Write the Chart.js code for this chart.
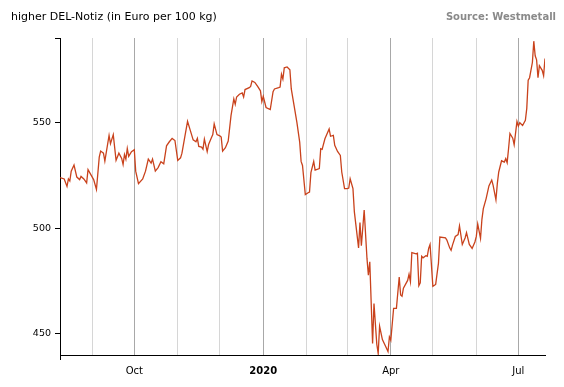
<!DOCTYPE html>
<html>
	<head>
		<script src="https://cdn.jsdelivr.net/npm/chart.js"></script>
		<style>
			body { margin: 0; background: #fff; }
		</style>
	</head>

	<body>
		<div style="width: 564px; height: 387px; position: relative">
			<canvas id="myChart"></canvas>
		</div>

		<script>
			// days counted from 2020-01-01
			const days = [
				-145, -142, -140, -139, -138, -137, -135, -133, -131, -130, -128, -126, -125, -122, -121, -119, -117, -116,
				-114, -113, -110, -109, -107, -105, -103, -101, -100, -99, -98, -97, -96, -94, -92, -91, -89, -86, -84, -82,
				-80, -79, -77, -75, -73, -71, -69, -67, -65, -63, -61, -59, -58, -56, -54, -52, -50, -48, -47, -46, -44, -43,
				-42, -40, -39, -37, -36, -35, -33, -31, -30, -29, -27, -25,
				-23, -21, -20, -19, -17, -15, -14, -13, -10, -9, -8, -6, -4, -2, -1, 0, 2, 5, 7, 8, 11, 12, 13, 14, 15, 17,
				19, 20, 22, 24, 26, 27, 28, 30, 32, 33, 34, 36, 37, 40, 41, 42, 44, 47, 48, 50, 51, 53, 55, 56, 58, 60, 61,
				62, 64, 65, 68, 69, 70, 72, 74, 75, 76, 78, 79, 81, 82, 83, 85, 87, 89,
				90, 91, 93, 95, 97, 98, 99, 100, 103, 104, 105, 106, 109, 110, 111, 112, 113, 114, 116, 117, 118, 119, 121,
				123, 125, 126, 130, 131, 133, 134, 135, 137, 139, 140, 142, 144, 145, 147, 149, 151, 152, 153, 155, 156, 157,
				159, 161, 163, 164, 166, 167, 168, 170, 172, 173, 174, 175, 176, 178, 179, 181, 182, 183, 185, 187, 188, 189,
				190, 192, 193, 194, 195, 196, 197, 199, 200, 201
			];
			const prices = [
				523.9, 523.3, 519.8, 523.3, 522.3, 527, 529.9, 524.2, 523, 524.5, 523.3, 521.4, 527.7, 524.2, 523, 518.3,
				533.6, 536.5, 535.5, 531.7, 543.9, 540, 544.3, 532.1, 535.5, 533, 530.2, 534.9, 532.7, 537.7, 534, 536.2,
				537.1, 527, 521.1, 523.3, 527, 532.7, 530.8, 532.7, 527, 528.7, 531.5, 530.5, 539, 540.9, 542.5, 541.5,
				532.1, 533.3, 535.5, 543.1, 550.6, 546.2, 541.8, 540.9, 542.5, 538.7, 538.4, 537.4, 542.1, 536.2, 539.6,
				542.8, 544.3, 549.4, 544.3, 543.7, 543.1, 536.5, 538.1, 541.2,
				553.3, 561.2, 558.6, 562.1, 563.4, 564, 562.1, 565.6, 566.5, 567.1, 569.7, 569, 567.1, 565, 559.9, 562.4,
				557.1, 556.1, 564.6, 565.9, 566.5, 566.8, 572.8, 570.6, 575.9, 576.3, 575, 565.9, 558, 550.1, 540.7, 531.6,
				529.7, 515.9, 516.8, 517.1, 526.3, 531.6, 527.5, 528.2, 537.6, 537.3, 542.3, 547, 543.5, 543.9, 539.2,
				536.3, 534.4, 526.6, 518.7, 518.7, 519, 523.4, 518.7, 507.7, 490.7, 502.7, 491.7, 508.6, 485.7, 477.8,
				484.1, 445.4, 464.3, 445.1, 440.7, 453.6, 447.3, 444.5, 441.6,
				448.6, 447, 462.1, 462.1, 476.9, 468.4, 467.8, 471.6, 475.3, 478.2, 474.7, 488.5, 487.9, 488.2, 472.8,
				474.1, 486.7, 486, 487, 486.7, 490.4, 492.3, 472.5, 473.4, 483.5, 495.8, 495.4, 494.4, 490.7, 489.5, 492,
				496.1, 497, 501.1, 492.3, 495.4, 497.9, 492.3, 490.4, 493.5, 496.1, 502, 495.2, 504.2, 509.3, 514, 520,
				522.8, 520.3, 513.4, 521.2, 526.6, 531.9, 531.3, 532.9, 531, 537.6, 544.8, 542.6, 539.5, 550.5, 548.3,
				549.9, 548.6, 551.1, 556.7, 570, 571.2, 578.4, 588.5, 581.6, 579.7, 571.2, 576.9, 574.7, 572.2, 580.3
			];

			// month starts (days from 2020-01-01), first entry is the left end of the axis
			const monthDays = [-145, -122, -92, -61, -31, 0, 31, 60, 91, 121, 152, 182];
			const monthLabels = ['', '', 'Oct', '', '', '2020', '', '', 'Apr', '', '', 'Jul'];
			const yTicks = [450, 500, 550, 590];

			const titleText = 'higher DEL-Notiz (in Euro per 100 kg)';
			const sourceText = 'Source: Westmetall';

			const points = days.map((d, i) => ({ x: d, y: prices[i] }));

			const headerPlugin = {
				id: 'header',
				afterDraw(chart) {
					const ctx = chart.ctx;
					ctx.save();
					ctx.textBaseline = 'middle';
					ctx.fillStyle = '#000';
					ctx.textAlign = 'left';
					ctx.font = '11px "DejaVu Sans"';
					ctx.fillText(titleText, 11, 17);
					ctx.fillStyle = '#8a8a8a';
					ctx.textAlign = 'right';
					ctx.font = 'bold 10px "DejaVu Sans"';
					ctx.fillText(sourceText, 556, 17);
					ctx.restore();
				}
			};

			const isQuarter = (v) => [-92, 0, 91, 182].includes(v);

			const data = {
				datasets: [
					{
						label: 'DEL-Notiz',
						data: points,
						borderColor: '#c9421c',
						borderWidth: 1.3,
						pointRadius: 0,
						tension: 0,
						fill: false
					}
				]
			};

			const options = {
				animation: false,
				responsive: true,
				maintainAspectRatio: false,
				layout: {
					padding: { top: 38, right: 19, left: 0, bottom: 0 }
				},
				scales: {
					x: {
						type: 'linear',
						min: -145,
						max: 201,
						afterBuildTicks: (scale) => {
							scale.ticks = monthDays.map((v) => ({ value: v }));
						},
						afterFit: (scale) => {
							scale.height = 32;
						},
						ticks: {
							autoSkip: false,
							maxRotation: 0,
							padding: 5,
							color: '#000',
							font: (c) => ({
								family: '"DejaVu Sans"',
								size: 10,
								weight: c.tick && c.tick.value === 0 ? 'bold' : 'normal'
							}),
							callback: (v) => monthLabels[monthDays.indexOf(v)]
						},
						grid: {
							color: (c) => (c.index === 0 ? 'rgba(0,0,0,0)' : isQuarter(c.tick.value) ? '#a8a8a8' : '#d6d6d6'),
							tickColor: (c) => (c.index === 0 ? '#000' : 'rgba(0,0,0,0)'),
							tickLength: 5
						},
						border: { color: '#000', width: 1 }
					},
					y: {
						min: 440,
						max: 590,
						afterBuildTicks: (scale) => {
							scale.ticks = yTicks.map((v) => ({ value: v }));
						},
						afterFit: (scale) => {
							scale.width = 60;
						},
						ticks: {
							padding: 4,
							color: '#000',
							font: { family: '"DejaVu Sans"', size: 9.5 },
							callback: (v) => (v === 590 ? '' : v)
						},
						grid: {
							drawOnChartArea: false,
							tickLength: 5,
							tickColor: '#000'
						},
						border: { color: '#000', width: 1 }
					}
				},
				plugins: {
					legend: { display: false },
					tooltip: { enabled: false }
				}
			};

			const config = {
				type: 'line',
				data,
				options,
				plugins: [headerPlugin]
			};
			var myChart = new Chart(document.getElementById('myChart'), config);
		</script>
	</body>
</html>
